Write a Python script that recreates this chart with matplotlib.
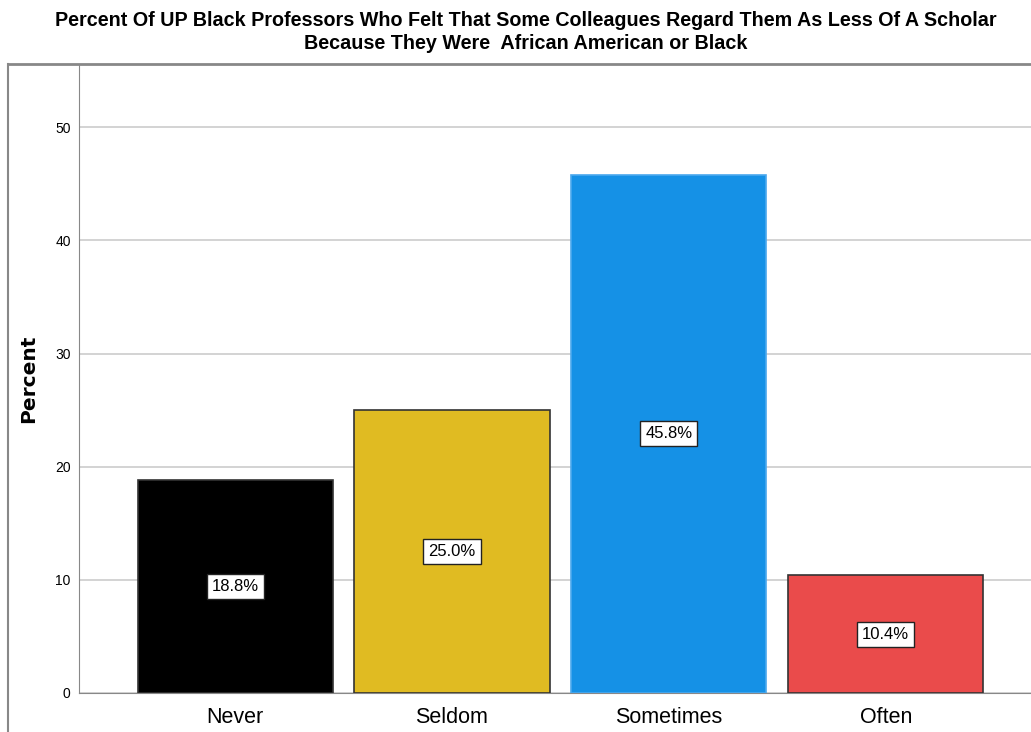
import matplotlib.pyplot as plt
from matplotlib.lines import Line2D

# Data
categories = ['Never', 'Seldom', 'Sometimes', 'Often']
percents = [18.8, 25.0, 45.8, 10.4]
bar_colors = ['#000000', '#E0BB22', '#1591E6', '#EA4B4B']
edge_colors = ['#333333', '#333333', '#4AA8EE', '#333333']
yticks = [0, 10, 20, 30, 40, 50]

title = ('Percent Of UP Black Professors Who Felt That Some Colleagues Regard Them As Less Of A Scholar\n'
         'Because They Were  African American or Black')

narrow = ['Liberation Sans Narrow', 'Liberation Sans', 'DejaVu Sans']

fig = plt.figure(figsize=(10.31, 7.32), dpi=100)
ax = fig.add_axes([79 / 1031, 1 - 693 / 732, 1 - 79 / 1031, (693 - 64) / 732])

x = list(range(len(categories)))
ax.bar(x, percents, width=0.9, color=bar_colors, edgecolor=edge_colors, linewidth=1.2, zorder=3)

# value labels in white boxes at mid-height
for xi, p in zip(x, percents):
    ax.text(xi, p / 2, f'{p:.1f}%', ha='center', va='center', fontsize=12, family=narrow,
            bbox=dict(boxstyle='square,pad=0.3', facecolor='white', edgecolor='#222222', linewidth=1),
            zorder=4)

ax.set_xlim(-0.72, 3.67)
ax.set_ylim(0, 55.6)
ax.set_yticks(yticks)
ax.set_yticklabels([str(t) for t in yticks], fontsize=10, family=narrow)
ax.set_xticks(x)
ax.set_xticklabels(categories, fontsize=15.5, family=narrow)
ax.tick_params(axis='x', length=0, pad=10)
ax.tick_params(axis='y', length=0, pad=6)
ax.grid(axis='y', color='#cccccc', linewidth=1.2, zorder=0)
ax.set_axisbelow(True)

for side in ['top', 'right']:
    ax.spines[side].set_visible(False)
ax.spines['left'].set_color('#888888')
ax.spines['bottom'].set_color('#888888')

ax.set_ylabel('Percent', fontsize=14.5, fontweight='bold', labelpad=12)

# outer frame lines
fig.add_artist(Line2D([8 / 1031, 1], [1 - 64 / 732, 1 - 64 / 732], color='#888888', linewidth=2))
fig.add_artist(Line2D([8 / 1031, 8 / 1031], [0, 1 - 64 / 732], color='#888888', linewidth=1.5))

fig.text(0.510, 1 - 32 / 732, title, ha='center', va='center', fontsize=14.2, fontweight='bold',
         family=narrow, linespacing=1.25)

fig.savefig('out.png', dpi=100)
